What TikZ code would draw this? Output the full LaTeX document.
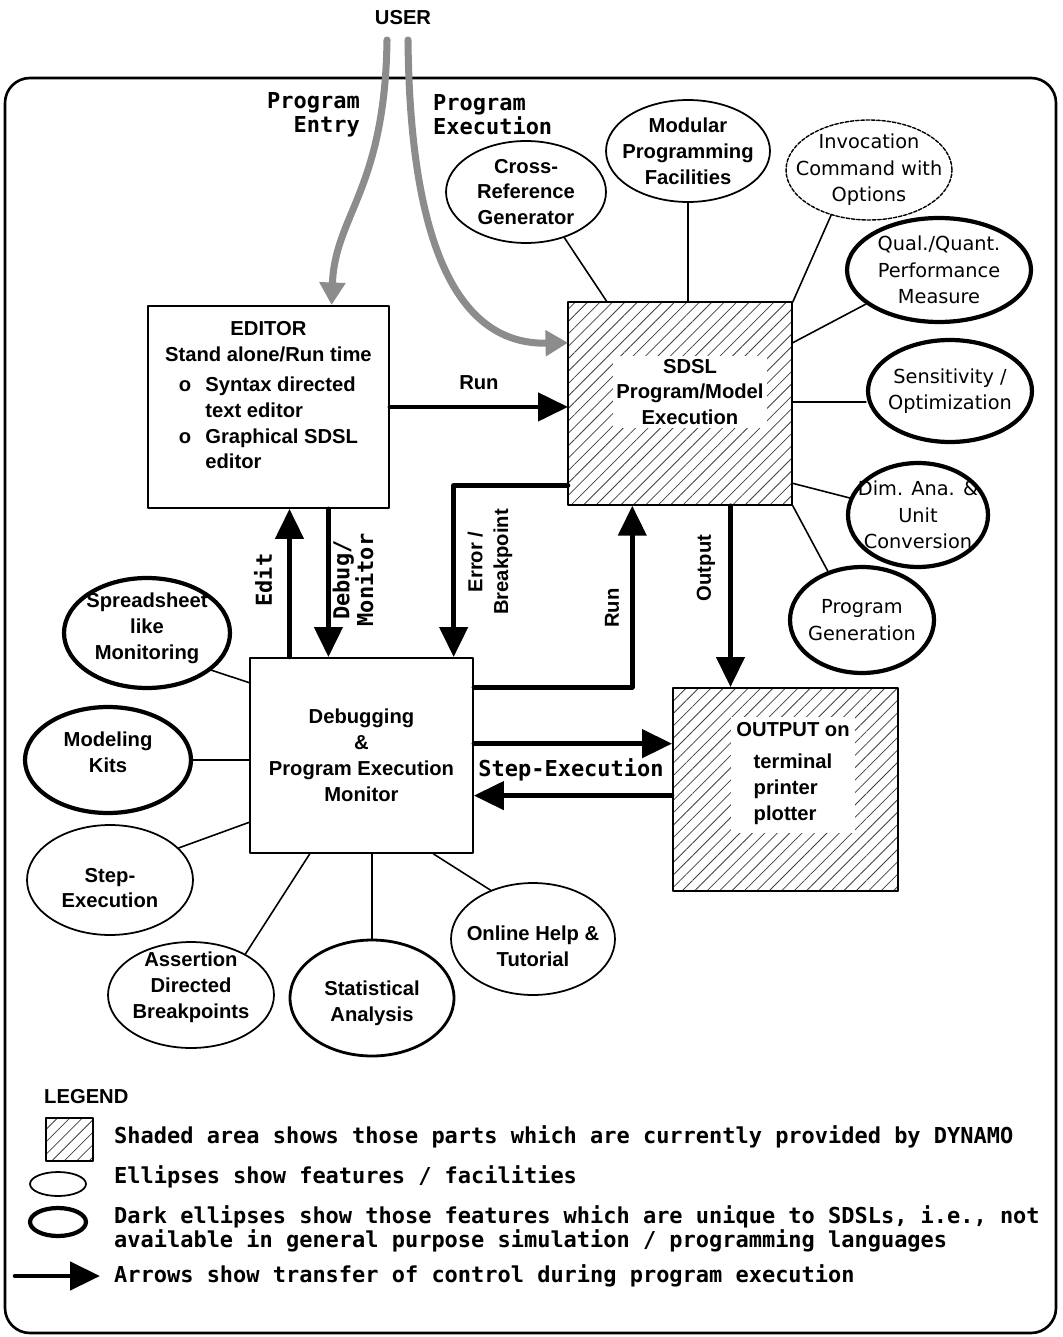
\documentclass[tikz,border=0pt]{standalone}
\usepackage{fontspec}
\setmainfont{Liberation Sans}
\setmonofont{DejaVu Sans Mono}
\newfontfamily\genevafam{DejaVu Sans}
\usetikzlibrary{arrows.meta,calc,positioning,shapes.geometric,patterns.meta}
\newcommand\boxfont{\fontsize{11.5pt}{14.7pt}\selectfont\bfseries}
\newcommand\ellfont{\fontsize{11pt}{15pt}\selectfont\genevafam}
\newcommand\labfont{\fontsize{12.5pt}{13.5pt}\selectfont\ttfamily\bfseries}
\newcommand\legfont{\fontsize{12.5pt}{14pt}\selectfont\ttfamily\bfseries}
\tikzstyle{every path}=[line cap=round,line join=round]
\tikzstyle{box}=[draw,line width=1.1pt,inner sep=0pt,anchor=north west]
\tikzstyle{shaded}=[box,pattern={Lines[angle=45,distance=5pt,line width=0.45pt]},pattern color=black!75]
\tikzstyle{feat}=[draw,ellipse,line width=1pt,inner sep=0pt]
\tikzstyle{darkfeat}=[feat,line width=2.4pt]
\tikzstyle{ctrl}=[line width=2.6pt,-{Triangle[length=0.6cm,width=0.56cm]}]
\tikzstyle{link}=[line width=0.9pt]
\tikzstyle{userflow}=[draw=black!45,line width=4pt,-{Triangle[length=0.45cm,width=0.5cm]}]

\begin{document}
\begin{tikzpicture}[x=0.02cm,y=-0.02cm]
\useasboundingbox (0,0) rectangle (1062,1337);
\draw[line width=1.5pt,rounded corners=0.5cm] (5,78) rectangle (1056,1333);

\node[font=\boxfont] (user) at (403,18) {USER};
\node[font=\labfont,align=right,anchor=east] (pentry) at (366,115) {Program\\Entry};
\node[font=\labfont,align=left,anchor=west] (pexec) at (427,115) {Program\\Execution};

\node[box,minimum width=4.82cm,minimum height=4.04cm] (editor) at (147,305) {};
\node[font=\boxfont,align=center,anchor=north] (edtxt) at ([yshift=-0.2cm]editor.north)
{EDITOR\\Stand alone/Run time\\[0.2cm]
\begin{tabular}{@{}l@{\hspace{0.7em}}l@{}}
o & Syntax directed\\
  & text editor\\
o & Graphical SDSL\\
  & editor
\end{tabular}};

\node[shaded,minimum width=4.48cm,minimum height=4.06cm] (sdsl) at (568,302) {};
\node[font=\boxfont,align=center,fill=white,inner sep=2pt] (sdsltxt) at (690,392) {SDSL\\Program/Model\\Execution};

\node[box,minimum width=4.46cm,minimum height=3.9cm] (debug) at (249,657) {};
\node[font=\boxfont,align=center] (dbgtxt) at (debug.center) {Debugging\\\&\\Program Execution\\Monitor};

\node[shaded,minimum width=4.5cm,minimum height=4.06cm] (output) at (672,687) {};
\node[font=\boxfont,align=center,fill=white,inner sep=3pt] (outtxt) at (793,775)
{OUTPUT on\\[0.25cm]
\begin{tabular}{@{}l@{}}terminal\\printer\\plotter\end{tabular}};

\coordinate (uL) at (387,40);
\coordinate (uR) at (408,40);
\draw[userflow] (uL) .. controls (385,190) and (335,215) .. ($(editor.north west)!0.76!(editor.north east)$);
\draw[userflow] (uR) .. controls (410,250) and (460,345) .. ($(sdsl.north west)!0.2!(sdsl.south west)$);

\draw[ctrl] (editor.east) -- (editor.east -| sdsl.west) node[midway,above=5pt,font=\boxfont] (runlab) {Run};

\coordinate (editA) at ($(debug.north west)!0.18!(debug.north east)$);
\draw[ctrl] (editA) -- (editA |- editor.south);
\node[font=\labfont,rotate=90] (editlab) at (263,580) {Edit};

\coordinate (dbgA) at ($(editor.south west)!0.747!(editor.south east)$);
\draw[ctrl] (dbgA) -- (dbgA |- debug.north);
\node[font=\labfont,rotate=90,align=center] (dbglab) at (353,580) {Debug/\\Monitor};

\coordinate (errA) at ($(sdsl.north west)!0.9!(sdsl.south west)$);
\coordinate (errB) at ($(debug.north west)!0.91!(debug.north east)$);
\draw[ctrl] (errA) -| (errB);
\node[font=\boxfont,rotate=90,align=center] (errlab) at (490,562) {Error /\\Breakpoint};

\coordinate (runB) at ($(debug.north east)!0.154!(debug.south east)$);
\coordinate (runC) at ($(sdsl.south west)!0.286!(sdsl.south east)$);
\draw[ctrl] (runB) -| (runC);
\node[font=\boxfont,rotate=90] (runlab2) at (612,608) {Run};

\coordinate (outA) at ($(sdsl.south west)!0.723!(sdsl.south east)$);
\draw[ctrl] (outA) -- (outA |- output.north);
\node[font=\boxfont,rotate=90] (outlab) at (706,568) {Output};

\coordinate (stepA) at ($(debug.north east)!0.44!(debug.south east)$);
\draw[ctrl] (stepA) -- (stepA -| output.west);
\node[font=\labfont] (steplab) at (571,770) {Step-Execution};
\coordinate (backA) at ($(output.north west)!0.53!(output.south west)$);
\draw[ctrl] (backA) -- (backA -| debug.east);

\node[feat,minimum width=3.2cm,minimum height=2.04cm] (xref) at (526,192) {};
\node[font=\boxfont,align=center] (xreft) at (xref) {Cross-\\Reference\\Generator};
\node[feat,minimum width=3.28cm,minimum height=2.04cm] (modul) at (688,151) {};
\node[font=\boxfont,align=center] (modult) at (modul) {Modular\\Programming\\Facilities};
\node[feat,dash pattern=on 2pt off 1pt,line width=0.8pt,minimum width=3.32cm,minimum height=2cm] (invoc) at (869,170) {};
\node[font=\ellfont,align=center] (invoct) at (invoc) {Invocation\\Command with\\Options};
\node[darkfeat,minimum width=3.68cm,minimum height=2.08cm] (qual) at (939,270) {};
\node[font=\ellfont,align=center] (qualt) at (qual) {Qual./Quant.\\Performance\\Measure};
\node[darkfeat,minimum width=3.28cm,minimum height=2.04cm] (sens) at (950,391) {};
\node[font=\ellfont,align=center] (senst) at (sens) {Sensitivity /\\Optimization};
\node[darkfeat,minimum width=2.8cm,minimum height=2.08cm] (dimana) at (918,515) {};
\node[font=\ellfont,align=center] (dimanat) at (dimana) {Dim. Ana. \&\\Unit\\Conversion};
\node[darkfeat,minimum width=2.88cm,minimum height=2.12cm] (pgen) at (862,620) {};
\node[font=\ellfont,align=center] (pgent) at (pgen) {Program\\Generation};

\node[darkfeat,minimum width=3.32cm,minimum height=2.2cm] (sprd) at (147,633) {};
\node[font=\boxfont,align=center] (sprdt) at (147,628) {Spreadsheet\\like\\Monitoring};
\node[darkfeat,minimum width=3.32cm,minimum height=2.12cm] (mkit) at (108,760) {};
\node[font=\boxfont,align=center] (mkitt) at (108,752) {Modeling\\Kits};
\node[feat,minimum width=3.32cm,minimum height=2.2cm] (stepx) at (110,880) {};
\node[font=\boxfont,align=center] (stepxt) at (110,888) {Step-\\Execution};
\node[feat,minimum width=3.32cm,minimum height=2.12cm] (asrt) at (191,995) {};
\node[font=\boxfont,align=center] (asrtt) at (191,987) {Assertion\\Directed\\Breakpoints};
\node[feat,line width=1.6pt,minimum width=3.28cm,minimum height=2.32cm] (stat) at (372,998) {};
\node[font=\boxfont,align=center] (statt) at (372,1003) {Statistical\\Analysis};
\node[feat,minimum width=3.28cm,minimum height=2.24cm] (help) at (533,939) {};
\node[font=\boxfont,align=center] (helpt) at (533,946) {Online Help \&\\Tutorial};

\draw[link] (xref.-50) -- ($(sdsl.north west)!0.174!(sdsl.north east)$);
\draw[link] (modul.south) -- (modul.south |- sdsl.north);
\draw[link] (invoc.230) -- (sdsl.north east);
\draw[link] (qual.205) -- ($(sdsl.north east)!0.2!(sdsl.south east)$);
\coordinate (sensA) at ($(sdsl.north east)!0.49!(sdsl.south east)$);
\draw[link] (sensA) -- (sensA -| sens.west);
\draw[link] (dimana.166) -- ($(sdsl.north east)!0.89!(sdsl.south east)$);
\draw[link] (pgen.125) -- (sdsl.south east);
\draw[link] (sprd.-30) -- ($(debug.north west)!0.13!(debug.south west)$);
\draw[link] (mkit.east) -- (mkit.east -| debug.west);
\draw[link] (stepx.25) -- ($(debug.north west)!0.84!(debug.south west)$);
\draw[link] (asrt.37) -- ($(debug.south west)!0.27!(debug.south east)$);
\draw[link] (stat.north) -- (stat.north |- debug.south);
\draw[link] (help.131) -- ($(debug.south west)!0.82!(debug.south east)$);

\node[font=\boxfont,anchor=west] (legend) at (38,1097) {LEGEND};
\node[shaded,minimum width=0.94cm,minimum height=0.86cm] (lghatch) at (45,1117) {};
\node[font=\legfont,anchor=west] (lgt1) at (108,1137) {Shaded area shows those parts which are currently provided by DYNAMO};
\node[feat,minimum width=1.12cm,minimum height=0.48cm] (lgell) at (58,1184) {};
\node[font=\legfont,anchor=west] (lgt2) at (108,1177) {Ellipses show features / facilities};
\node[darkfeat,minimum width=1.12cm,minimum height=0.56cm] (lgdark) at (58,1222) {};
\node[font=\legfont,anchor=west,align=left] (lgt3) at (108,1229) {Dark ellipses show those features which are unique to SDSLs, i.e., not\\available in general purpose simulation / programming languages};
\coordinate (lgA) at (15,1276);
\coordinate (lgB) at (100,1276);
\draw[ctrl] (lgA) -- (lgB);
\node[font=\legfont,anchor=west] (lgt4) at (108,1276) {Arrows show transfer of control during program execution};
\end{tikzpicture}
\end{document}
